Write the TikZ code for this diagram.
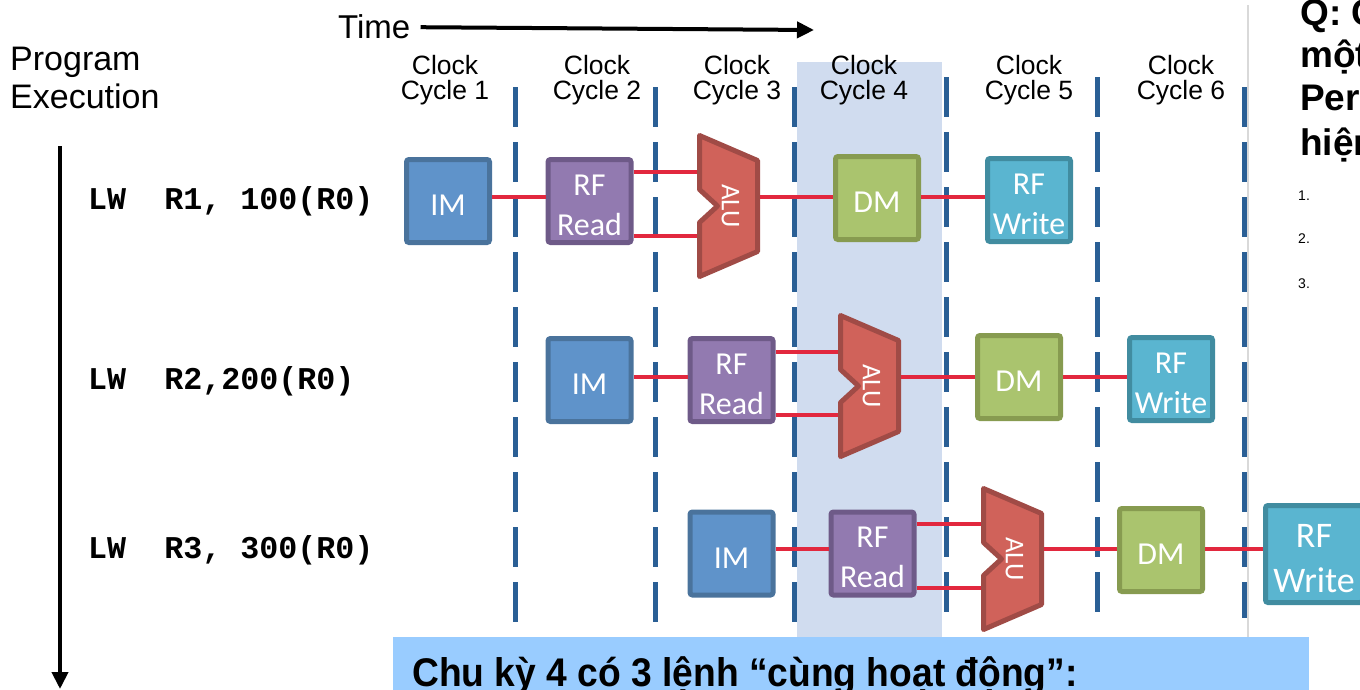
\documentclass[tikz,border=0pt]{standalone}
\usepackage{fontspec}
\setmainfont{Liberation Sans}
\newfontfamily\boxfont{Carlito}
\newfontfamily\codefont{Liberation Mono}
\usetikzlibrary{arrows.meta}

\definecolor{imfill}{HTML}{5F93CA}
\definecolor{imline}{HTML}{4A739C}
\definecolor{rffill}{HTML}{927AB0}
\definecolor{rfline}{HTML}{6E5A88}
\definecolor{alufill}{HTML}{D0625A}
\definecolor{aluline}{HTML}{A04B46}
\definecolor{dmfill}{HTML}{AAC46E}
\definecolor{dmline}{HTML}{879B50}
\definecolor{wrfill}{HTML}{5AB5D0}
\definecolor{wrline}{HTML}{418CA0}
\definecolor{linkred}{HTML}{E2283E}
\definecolor{dashblue}{HTML}{2A5F95}
\definecolor{cyclebg}{HTML}{D0DCEF}
\definecolor{notebg}{HTML}{99CCFF}

% extra room above the first line pushes box labels slightly down
\newcommand\unitstrut{\rule{0pt}{29pt}}

\tikzset{
  unit/.style={rectangle, rounded corners=2.5pt, line width=5pt,
    minimum width=83pt, minimum height=83pt, inner sep=0pt,
    text=white, align=center, font=\boxfont\fontsize{32}{40}\selectfont},
  imbox/.style={unit, fill=imfill, draw=imline},
  rfbox/.style={unit, fill=rffill, draw=rfline},
  dmbox/.style={unit, fill=dmfill, draw=dmline},
  wrbox/.style={unit, fill=wrfill, draw=wrline},
  alubox/.style={rectangle, minimum width=63pt, minimum height=146pt,
    inner sep=0pt, outer sep=0pt},
  alushape/.style={fill=alufill, draw=aluline, line width=5pt, line join=round},
  alutext/.style={rotate=-90, text=white, font=\boxfont\fontsize{27}{30}\selectfont},
  link/.style={draw=linkred, line width=4pt},
  dashline/.style={draw=dashblue, line width=5pt, dash pattern=on 40pt off 15pt},
  cyc/.style={align=center, inner sep=0pt, font=\fontsize{26.5}{24.5}\selectfont},
  instr/.style={anchor=base west, inner sep=0pt,
    font=\codefont\bfseries\fontsize{31.7}{34}\selectfont},
  bigarrow/.style={line width=4pt, -{Triangle[length=17pt,width=16pt]}},
  heading/.style={anchor=base west, inner sep=0pt, font=\fontsize{34}{38}\selectfont},
  qtext/.style={anchor=base west, inner sep=0pt,
    font=\bfseries\fontsize{37}{40}\selectfont},
  listnum/.style={anchor=base west, inner sep=0pt, font=\fontsize{14}{16}\selectfont},
}

% ALU: name, left x, top y (outer extent 63 x 146)
\newcommand\alublock[3]{%
  \node[alubox] (#1) at ({#2+31.5},{#3+73}) {};
  \draw[alushape] ([shift={(2.5,2.5)}]#1.north west) -- ++(58,25) -- ++(0,91)
    -- ++(-58,25) -- ++(0,-54) -- ++(18,-16.5) -- ++(-18,-16.5) -- cycle;
  \node[alutext] at ([xshift=2pt]#1.center) {ALU};
}

\begin{document}
\begin{tikzpicture}[x=1pt,y=-1pt]
\useasboundingbox (0,0) rectangle (1360,689);
\clip (0,0) rectangle (1360,689);

% highlighted fourth clock cycle
\fill[cyclebg] (797,62) rectangle (942,637);

% separator on the right
\draw[gray!30, line width=1.5pt] (1248,5) -- (1248,637);

% clock cycle boundaries
\draw[dashline] (515,87) -- (515,622);
\draw[dashline] (655,87) -- (655,622);
\draw[dashline] (794,87) -- (794,622);
\draw[dashline] (946,77) -- (946,622);
\draw[dashline] (1097,77) -- (1097,622);
\draw[dashline] (1244,87) -- (1244,618);

% headings
\node[heading, font=\fontsize{33}{37}\selectfont] (time) at (338,38) {Time};
\coordinate (timeend) at (814,30);
\draw[bigarrow] ([xshift=10pt,yshift=-1pt]time.east) -- (timeend);

\node[heading] (prog) at (10,70) {Program};
\node[heading] (exec) at (10,108) {Execution};
\coordinate (progtop) at (60,146);
\coordinate (progend) at (60,689);
\draw[bigarrow] (progtop) -- (progend);

\node[cyc] (c1) at (445,80) {Clock\\Cycle 1};
\node[cyc] (c2) at (597,80) {Clock\\Cycle 2};
\node[cyc] (c3) at (737,80) {Clock\\Cycle 3};
\node[cyc] (c4) at (864,80) {Clock\\Cycle 4};
\node[cyc] (c5) at (1029,80) {Clock\\Cycle 5};
\node[cyc] (c6) at (1181,80) {Clock\\Cycle 6};

% instructions
\node[instr] (i1) at (88,209) {LW\ \ R1,\ 100(R0)};
\node[instr] (i2) at (88,389) {LW\ \ R2,200(R0)};
\node[instr] (i3) at (88,558) {LW\ \ R3,\ 300(R0)};

% first instruction
\node[imbox] (im1) at (448,201) {\unitstrut IM};
\node[rfbox] (rf1) at (589.5,201) {\unitstrut RF\\Read};
\alublock{alu1}{697}{133}
\node[dmbox] (dm1) at (877,198) {\unitstrut DM};
\node[wrbox] (wr1) at (1029,200) {\unitstrut RF\\Write};
\draw[link] (im1.east |- 0,197) -- (rf1.west |- 0,197);
\draw[link] (rf1.east |- 0,172) -- (alu1.west |- 0,172);
\draw[link] (rf1.east |- 0,236) -- (alu1.west |- 0,236);
\draw[link] (alu1.east |- 0,197) -- (dm1.west |- 0,197);
\draw[link] (dm1.east |- 0,197) -- (wr1.west |- 0,197);

% second instruction
\node[imbox] (im2) at (589.5,380) {\unitstrut IM};
\node[rfbox] (rf2) at (731.5,380) {\unitstrut RF\\Read};
\alublock{alu2}{838}{313}
\node[dmbox] (dm2) at (1019,377) {\unitstrut DM};
\node[wrbox] (wr2) at (1171,379) {\unitstrut RF\\Write};
\draw[link] (im2.east |- 0,377) -- (rf2.west |- 0,377);
\draw[link] (rf2.east |- 0,352) -- (alu2.west |- 0,352);
\draw[link] (rf2.east |- 0,415) -- (alu2.west |- 0,415);
\draw[link] (alu2.east |- 0,377) -- (dm2.west |- 0,377);
\draw[link] (dm2.east |- 0,377) -- (wr2.west |- 0,377);

% third instruction
\node[imbox] (im3) at (731.5,553.5) {\unitstrut IM};
\node[rfbox] (rf3) at (872.5,553.5) {\unitstrut RF\\Read};
\alublock{alu3}{981}{486}
\node[dmbox] (dm3) at (1161,550) {\unitstrut DM};
\node[wrbox, minimum width=97pt, minimum height=97pt,
  font=\boxfont\fontsize{36}{45}\selectfont] (wr3) at (1314,554)
  {\rule{0pt}{32pt}RF\\Write};
\draw[link] (im3.east |- 0,549) -- (rf3.west |- 0,549);
\draw[link] (rf3.east |- 0,524) -- (alu3.west |- 0,524);
\draw[link] (rf3.east |- 0,588) -- (alu3.west |- 0,588);
\draw[link] (alu3.east |- 0,549) -- (dm3.west |- 0,549);
\draw[link] (dm3.east |- 0,549) -- (wr3.west |- 0,549);

% question panel on the right
\node[qtext] (q1) at (1300,25) {Q: C};
\node[qtext] (q2) at (1300,67) {một};
\node[qtext] (q3) at (1300,110) {Per};
\node[qtext] (q4) at (1300,155) {hiện};
\node[listnum] (n1) at (1298,200) {1.};
\node[listnum] (n2) at (1298,243) {2.};
\node[listnum] (n3) at (1298,288) {3.};

% note at the bottom
\fill[notebg] (393,637) rectangle (1309,700);
\node[anchor=base west, inner sep=0pt, xscale=0.93,
  font=\bfseries\fontsize{40}{44}\selectfont] (note) at (412,686)
  {Chu kỳ 4 có 3 lệnh “cùng hoạt động”:};
\end{tikzpicture}
\end{document}
